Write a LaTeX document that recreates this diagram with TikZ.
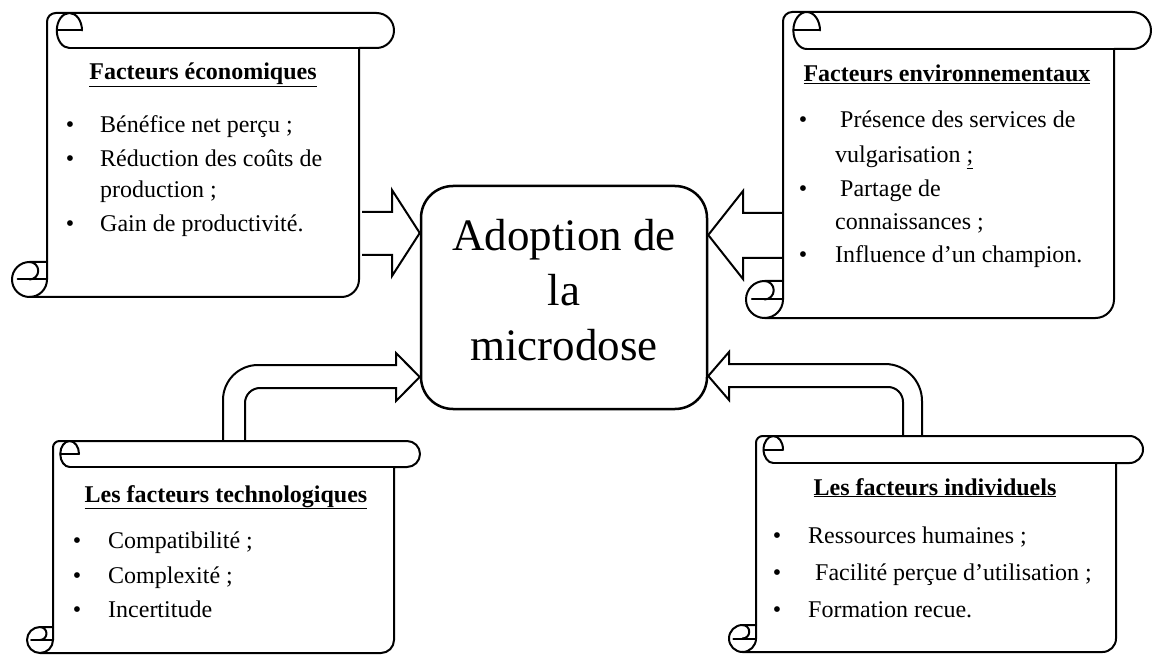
\documentclass[tikz,border=0pt]{standalone}
\usepackage{fontspec}
\setmainfont{Liberation Serif}
\usetikzlibrary{calc}
\tikzset{
  scrollline/.style={line width=2pt, line join=round, line cap=round},
  blockarrow/.style={line width=2pt, line join=miter},
  bodytext/.style={anchor=base west, inner sep=0pt, font=\fontsize{24}{28}\selectfont},
  bul/.style={anchor=base, inner sep=0pt, font=\fontsize{24}{28}\selectfont},
  titletext/.style={anchor=base, inner sep=0pt, font=\fontsize{24}{28}\selectfont\bfseries},
}
% vertical scroll (Word preset look): #1=L #2=T #3=R #4=B #5=ch
\newcommand{\vscroll}[5]{%
  \pgfmathsetmacro\cA{#5/2}%
  \pgfmathsetmacro\cB{#5/4}%
  \pgfmathsetmacro\cR{0.36*#5}%
  \fill[white] (#1+#5,#4-#5) -- (#1+#5,#2+\cB) arc[start angle=180,end angle=270,radius=\cB]
     -- (#3-\cA,#2) arc[start angle=270,end angle=450,radius=\cA]
     -- (#3-#5,#2+#5) -- (#3-#5,#4-\cA) arc[start angle=0,end angle=90,radius=\cA]
     -- (#1+\cA,#4) arc[start angle=90,end angle=270,radius=\cA] -- cycle;
  \draw[scrollline] (#1+#5,#4-#5) -- (#1+#5,#2+\cB) arc[start angle=180,end angle=270,radius=\cB]
     -- (#3-\cA,#2) arc[start angle=270,end angle=450,radius=\cA]
     -- (#3-#5,#2+#5) -- (#3-#5,#4-\cA) arc[start angle=0,end angle=90,radius=\cA]
     -- (#1+\cA,#4) arc[start angle=90,end angle=270,radius=\cA] -- cycle;
  % top curl ("e")
  \draw[scrollline] (#1+#5+#5,#2+\cA) arc[start angle=360,end angle=90,x radius=\cR,y radius=\cA];
  \draw[scrollline] (#1+#5+#5-\cR-\cR,#2+\cA) -- (#1+#5+#5,#2+\cA);
  \draw[scrollline] (#3-#5,#2+#5) -- (#1+#5+#5-\cR,#2+#5);
  % bottom curl
  \draw[scrollline] (#1+\cA,#4-#5) arc[start angle=270,end angle=450,radius=\cB];
  \draw[scrollline] (#1+0.16*#5,#4-\cA) -- (#1+#5,#4-\cA);
  \draw[scrollline] (#1+\cA,#4) arc[start angle=90,end angle=0,radius=\cA] -- (#1+#5,#4-#5);
}
\begin{document}
\begin{tikzpicture}[x=1pt,y=-1pt]
\useasboundingbox[fill=white] (0,0) rectangle (1152,655);

% central node
\node[draw, line width=2.5pt, rounded corners=32pt, minimum width=286pt, minimum height=223pt,
      inner sep=0pt, align=center, font=\fontsize{45}{55}\selectfont, text depth=16pt]
      (adopt) at (564,297.5) {Adoption de\\la\\microdose};

% helper coordinates
\coordinate (tlY) at (0,233);
\coordinate (trY) at (0,235);
\coordinate (blY) at (0,377);
\coordinate (brY) at (0,376);

% top-left block arrow
\draw[blockarrow] (362,212) -- (392,212) -- (392,190) -- (adopt.west |- tlY) -- (392,276) -- (392,255) -- (362,255);
% top-right block arrow
\draw[blockarrow] (783,213) -- (743,213) -- (743,191) -- (adopt.east |- trY) -- (743,279) -- (743,258) -- (783,258);
% bottom-left bent arrow
\draw[blockarrow] (223,441) -- (223,400) arc[start angle=180,end angle=270,radius=35] -- (396,365)
   -- (396,353) -- (adopt.west |- blY) -- (396,401) -- (396,388) -- (260,388)
   arc[start angle=270,end angle=180,radius=15] -- (245,441);
% bottom-right bent arrow
\draw[blockarrow] (922,436) -- (922,401) arc[start angle=0,end angle=-90,radius=37] -- (729,364)
   -- (729,352) -- (adopt.east |- brY) -- (729,400) -- (729,387) -- (888,387)
   arc[start angle=-90,end angle=0,radius=15] -- (903,436);

% scrolls
\vscroll{12}{13}{394}{297}{35}
\vscroll{746}{12}{1151}{318}{37}
\vscroll{27}{441}{420}{653}{26}
\vscroll{729}{436}{1143}{652}{27}

% top-left texts
\node[titletext] (t1) at (203,80) {\underline{Facteurs économiques}};
\node[bul] (b11) at (70,133) {\textbullet};
\node[bul] (b12) at (70,167) {\textbullet};
\node[bul] (b13) at (70,232) {\textbullet};
\node[bodytext] (l11) at (100,133) {Bénéfice net perçu ;};
\node[bodytext] (l12) at (100,167) {Réduction des coûts de};
\node[bodytext] (l13) at (100,198) {production ;};
\node[bodytext] (l14) at (100,232) {Gain de productivité.};

% top-right texts
\node[titletext] (t2) at (947,82) {\underline{Facteurs environnementaux}};
\node[bul] (b21) at (803,128) {\textbullet};
\node[bul] (b22) at (803,197) {\textbullet};
\node[bul] (b23) at (803,263) {\textbullet};
\node[bodytext] (l21) at (840,128) {Présence des services de};
\node[bodytext] (l22) at (835,163) {vulgarisation \underline{;}};
\node[bodytext] (l23) at (840,197) {Partage de};
\node[bodytext] (l24) at (835,230) {connaissances ;};
\node[bodytext] (l25) at (835,263) {Influence d’un champion.};

% bottom-left texts
\node[titletext] (t3) at (226,502) {\underline{Les facteurs technologiques}};
\node[bul] (b31) at (77,548) {\textbullet};
\node[bul] (b32) at (77,583) {\textbullet};
\node[bul] (b33) at (77,617) {\textbullet};
\node[bodytext] (l31) at (108,548) {Compatibilité ;};
\node[bodytext] (l32) at (108,583) {Complexité ;};
\node[bodytext] (l33) at (108,617) {Incertitude};

% bottom-right texts
\node[titletext] (t4) at (935,495) {\underline{Les facteurs individuels}};
\node[bul] (b41) at (777,543) {\textbullet};
\node[bul] (b42) at (777,580) {\textbullet};
\node[bul] (b43) at (777,617) {\textbullet};
\node[bodytext] (l41) at (808,543) {Ressources humaines ;};
\node[bodytext] (l42) at (815,580) {Facilité perçue d’utilisation ;};
\node[bodytext] (l43) at (808,617) {Formation recue.};
\end{tikzpicture}
\end{document}
